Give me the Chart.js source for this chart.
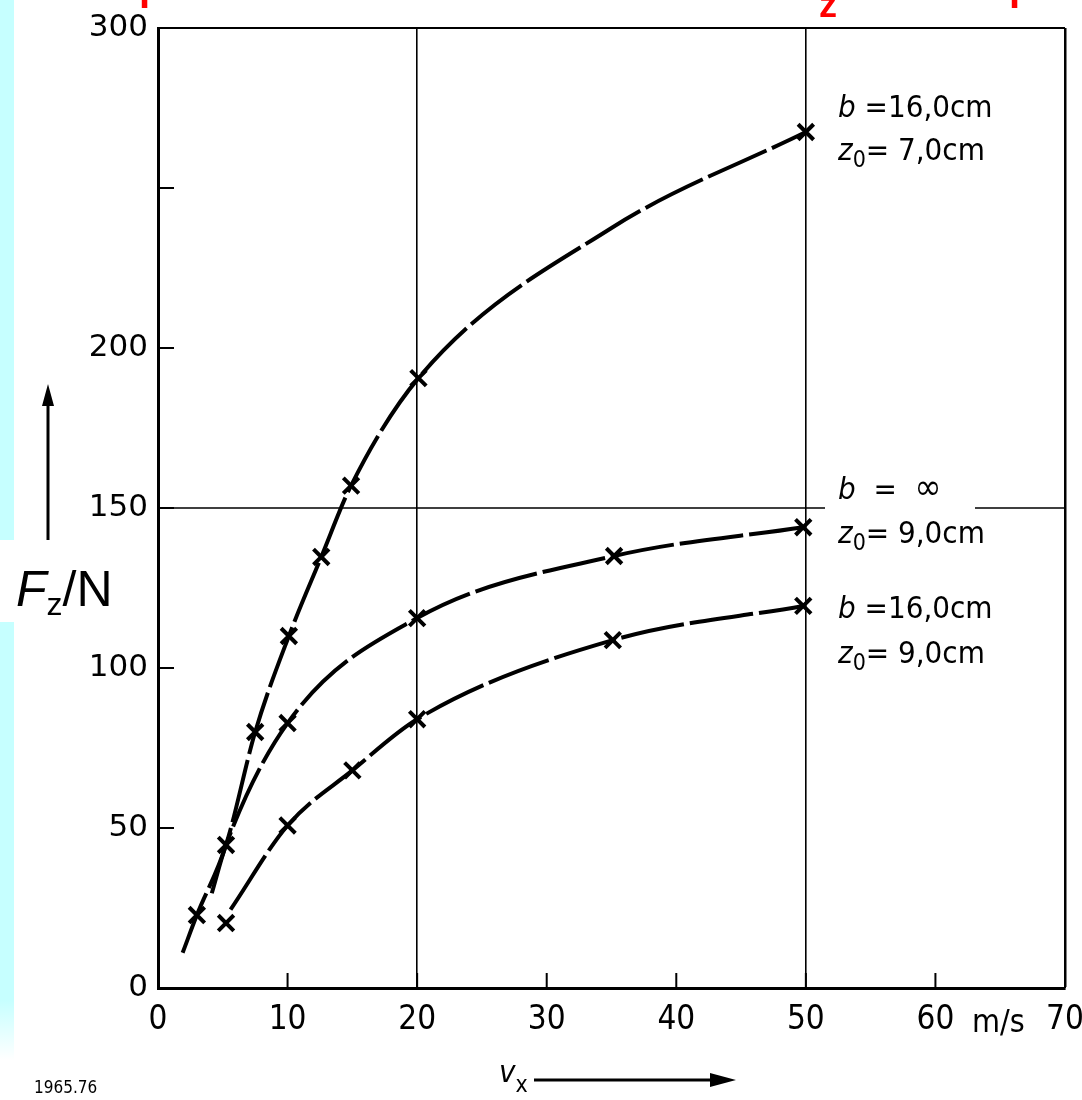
<!DOCTYPE html>
<html><head><meta charset="utf-8">
<script src="https://cdn.jsdelivr.net/npm/chart.js@4.4.1/dist/chart.umd.min.js"></script>
<style>html,body{margin:0;padding:0;background:#fff;} canvas{display:block;}</style>
</head><body>
<canvas id="c" width="1082" height="1100"></canvas>
<script>
// ---- data ----
const xTickValues = [0, 10, 20, 30, 40, 50, 60, 70];
const yTickValues = [0, 50, 100, 150, 200, 250, 300];
const yTickLabels = ['0', '50', '100', '150', '200', '', '300'];

// b = 16,0 cm ; z0 = 7,0 cm
const curve1X = [1.9, 3.0, 5.25, 7.5, 10.1, 12.6, 14.9, 20.1, 35, 50];
const curve1Y = [11, 22.8, 44.7, 80, 110, 134.7, 157, 190.6, 237.5, 267.5];
const marks1X = [3.0, 5.25, 7.5, 10.1, 12.6, 14.9, 20.1, 50];
const marks1Y = [22.8, 44.7, 80, 110, 134.7, 157, 190.6, 267.5];

// b = ∞ ; z0 = 9,0 cm
const curve2X = [4.15, 5.25, 10, 20, 35.2, 49.8];
const curve2Y = [29.6, 44.7, 82.8, 115.6, 135, 144];
const marks2X = [10, 20, 35.2, 49.8];
const marks2Y = [82.8, 115.6, 135, 144];

// b = 16,0 cm ; z0 = 9,0 cm
const curve3X = [5.6, 10, 15, 20, 35.1, 49.8];
const curve3Y = [24.5, 50.8, 68, 84, 108.7, 119.4];
const marks3X = [5.25, 10, 15, 20, 35.1, 49.8];
const marks3Y = [20.3, 50.8, 68, 84, 108.7, 119.4];

// ---- styling ----
const FONT = "'DejaVu Sans Condensed','Liberation Sans Narrow','DejaVu Sans',sans-serif";
const WIDE = "'DejaVu Sans',sans-serif";
const SANS = "'Liberation Sans',Arial,sans-serif";

const pts = (xs, ys) => xs.map((x, i) => ({x: x, y: ys[i]}));
const curveDs = (xs, ys) => ({
  data: pts(xs, ys), borderColor: '#000', borderWidth: 4, borderDash: [64, 6],
  pointRadius: 0, pointHoverRadius: 0, fill: false, cubicInterpolationMode: 'monotone', showLine: true
});
const markDs = (xs, ys) => ({
  data: pts(xs, ys), showLine: false, pointStyle: 'crossRot', pointRadius: 11, pointHoverRadius: 11,
  borderColor: '#000', backgroundColor: '#000', pointBorderWidth: 4, borderWidth: 4
});

function drawRuns(ctx, x, y, parts) {
  for (const p of parts) {
    ctx.font = p[1];
    ctx.fillText(p[0], x, y + (p[2] || 0));
    x += ctx.measureText(p[0]).width;
  }
}

const decor = {
  id: 'decor',
  beforeDraw(chart) {
    const ctx = chart.ctx;
    ctx.save();
    ctx.fillStyle = '#fff';
    ctx.fillRect(0, 0, chart.width, chart.height);
    ctx.fillStyle = '#c6ffff';
    ctx.fillRect(0, 0, 14, 540);
    ctx.fillRect(0, 622, 14, 380);
    const g = ctx.createLinearGradient(0, 1000, 0, 1060);
    g.addColorStop(0, '#c6ffff'); g.addColorStop(1, '#ffffff');
    ctx.fillStyle = g;
    ctx.fillRect(0, 1000, 14, 60);
    ctx.restore();
  },
  beforeDatasetsDraw(chart) {
    const ctx = chart.ctx, xs = chart.scales.x, ys = chart.scales.y;
    const L = xs.left, B = ys.bottom;
    ctx.save();
    ctx.strokeStyle = '#000';
    ctx.lineWidth = 2;
    ctx.beginPath();
    for (const v of yTickValues) {
      const py = ys.getPixelForValue(v);
      ctx.moveTo(L, py); ctx.lineTo(L + 16, py);
    }
    for (const v of xTickValues) {
      const px = xs.getPixelForValue(v);
      ctx.moveTo(px, B); ctx.lineTo(px, B - 15);
    }
    ctx.stroke();
    const p150 = ys.getPixelForValue(150);
    ctx.lineWidth = 1.6;
    ctx.beginPath();
    ctx.moveTo(L, p150); ctx.lineTo(825, p150);
    ctx.moveTo(975, p150); ctx.lineTo(xs.right, p150);
    ctx.stroke();
    ctx.restore();
  },
  afterDraw(chart) {
    const ctx = chart.ctx;
    ctx.save();
    ctx.fillStyle = '#000';
    ctx.strokeStyle = '#000';
    ctx.textBaseline = 'alphabetic';
    ctx.textAlign = 'left';
    const LBL = '31px ' + FONT, ITL = 'italic 31px ' + FONT, SUB = '23px ' + FONT;
    drawRuns(ctx, 838, 117, [['b', ITL], [' =16,0cm', LBL]]);
    drawRuns(ctx, 838, 160, [['z', ITL], ['0', SUB, 7], ['= 7,0cm', LBL]]);
    drawRuns(ctx, 838, 499, [['b', ITL], ['  =  ', LBL], ['\u221E', '36px ' + FONT]]);
    drawRuns(ctx, 838, 543, [['z', ITL], ['0', SUB, 7], ['= 9,0cm', LBL]]);
    drawRuns(ctx, 838, 618, [['b', ITL], [' =16,0cm', LBL]]);
    drawRuns(ctx, 838, 663, [['z', ITL], ['0', SUB, 7], ['= 9,0cm', LBL]]);
    ctx.font = '32px ' + FONT;
    ctx.fillText('m/s', 972, 1032);
    drawRuns(ctx, 16, 606, [['F', 'italic 50px ' + SANS], ['z', '32px ' + SANS, 9], ['/N', '50px ' + SANS]]);
    ctx.lineWidth = 3;
    ctx.beginPath(); ctx.moveTo(48, 540); ctx.lineTo(48, 400); ctx.stroke();
    ctx.beginPath(); ctx.moveTo(48, 384); ctx.lineTo(42, 406); ctx.lineTo(54, 406); ctx.closePath(); ctx.fill();
    drawRuns(ctx, 499, 1082, [['v', 'italic 31px ' + FONT], ['x', '23px ' + FONT, 10]]);
    ctx.beginPath(); ctx.moveTo(534, 1080); ctx.lineTo(714, 1080); ctx.stroke();
    ctx.beginPath(); ctx.moveTo(736, 1080); ctx.lineTo(710, 1073); ctx.lineTo(710, 1087); ctx.closePath(); ctx.fill();
    ctx.font = '17px ' + FONT;
    ctx.fillText('1965.76', 34, 1093);
    ctx.fillStyle = '#ff0000';
    ctx.font = 'bold 40px ' + SANS;
    ctx.fillText('p', 139, 0);
    ctx.fillText('p', 1009, 0);
    ctx.font = 'bold 36px ' + SANS;
    ctx.fillText('z', 819, 17);
    ctx.restore();
  }
};

new Chart(document.getElementById('c'), {
  type: 'line',
  data: {
    datasets: [
      curveDs(curve1X, curve1Y), curveDs(curve2X, curve2Y), curveDs(curve3X, curve3Y),
      markDs(marks1X, marks1Y), markDs(marks2X, marks2Y), markDs(marks3X, marks3Y)
    ]
  },
  options: {
    responsive: false, animation: false, devicePixelRatio: 1,
    layout: {padding: {top: 28, right: 17, left: 0, bottom: 0}},
    plugins: {legend: {display: false}, tooltip: {enabled: false}},
    events: [],
    scales: {
      x: {
        type: 'linear', min: 0, max: 70,
        afterFit(s) { s.height = 112; s.paddingLeft = 0; s.paddingRight = 0; },
        afterBuildTicks(s) { s.ticks = xTickValues.map(v => ({value: v})); },
        ticks: {font: {family: FONT, size: 33}, color: '#000', padding: 13, maxRotation: 0, autoSkip: false},
        grid: {
          drawTicks: false,
          color: c => (c.tick && (c.tick.value === 20 || c.tick.value === 50 || c.tick.value === 70)) ? '#000' : 'rgba(0,0,0,0)',
          lineWidth: c => (c.tick && c.tick.value === 70) ? 2.5 : 1.6
        },
        border: {color: '#000', width: 3}
      },
      y: {
        min: 0, max: 300,
        afterFit(s) { s.width = 158; s.paddingTop = 0; s.paddingBottom = 0; },
        afterBuildTicks(s) { s.ticks = yTickValues.map(v => ({value: v})); },
        ticks: {font: {family: WIDE, size: 31}, color: '#000', padding: 10, autoSkip: false,
                callback: (v) => yTickLabels[yTickValues.indexOf(v)]},
        grid: {
          drawTicks: false,
          color: c => (c.tick && c.tick.value === 300) ? '#000' : 'rgba(0,0,0,0)',
          lineWidth: 2
        },
        border: {color: '#000', width: 3}
      }
    }
  },
  plugins: [decor]
});
</script>
</body></html>
